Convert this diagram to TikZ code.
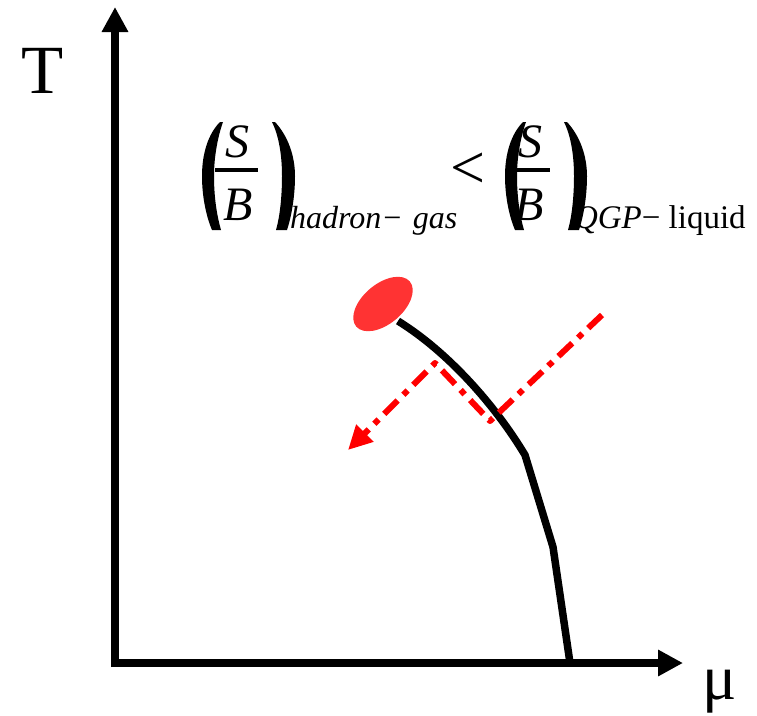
\documentclass[tikz,border=0pt]{standalone}
\usepackage{fontspec}
\setmainfont{Liberation Serif}
\usetikzlibrary{arrows.meta}
\definecolor{critred}{RGB}{255,51,51}
\begin{document}
\begin{tikzpicture}[x=1pt,y=-1pt,
  axis/.style={line width=8pt, -{Triangle[length=25pt,width=25pt]}},
  phase/.style={line width=7.5pt, line join=round},
  flow/.style={red, line width=6pt, line join=round, dash pattern=on 19pt off 8pt on 6pt off 8pt, -{Triangle[length=24pt,width=23pt]}},
  lbl/.style={inner sep=0pt, outer sep=0pt},
  big/.style={lbl, font=\fontsize{48}{48}\selectfont\itshape},
  subs/.style={lbl, anchor=base west, font=\fontsize{33}{33}\selectfont},
  lpar/.pic={\fill (18,-54) -- (21,-54) .. controls (16,-40) and (12,-20) .. (12,0) .. controls (12,22) and (15,40) .. (19,54) -- (10,54) .. controls (4,40) and (0,20) .. (0,0) .. controls (0,-22) and (6,-42) .. (18,-54) -- cycle;},
  rpar/.pic={\fill (-23,-54) -- (-20,-54) .. controls (-7,-40) and (0,-20) .. (0,0) .. controls (0,22) and (-4,42) .. (-8,54) -- (-19,54) .. controls (-15,40) and (-13,20) .. (-13,0) .. controls (-13,-20) and (-16,-40) .. (-23,-54) -- cycle;}
  ]
\useasboundingbox (0,0) rectangle (757,715);
% axes
\coordinate (Ob) at (115,667);
\coordinate (Ol) at (111,663);
\coordinate (Ttip) at (115,7);
\coordinate (Mtip) at (683,663);
\draw[axis] (Ob) -- (Ttip);
\draw[axis] (Ol) -- (Mtip);
\node[lbl, anchor=base west, font=\fontsize{69}{69}\selectfont] (T) at (21,93) {T};
\node[lbl, anchor=base west, font=\fontsize{64}{64}\selectfont] (mu) at (702,699) {μ};
% phase boundary
\coordinate (c0) at (398,321);
\coordinate (c1) at (525,455);
\coordinate (c2) at (553,547);
\coordinate (c3) at (570,663);
\draw[phase] (c0) .. controls (448,352) and (495,405) .. (c1) -- (c2) -- (c3);
\fill[critred, rotate around={40:(383,304)}] (383,304) ellipse [x radius=35, y radius=20];
% flow arrow
\coordinate (f0) at (602,315);
\coordinate (f1) at (490,421);
\coordinate (f2) at (435,363);
\coordinate (f3) at (348,450);
\draw[flow] (f0) -- (f1) -- (f2) -- (f3);
% formula
\pic at (202,176) {lpar};
\pic at (295,176) {rpar};
\node[big, anchor=base] (S1) at (237,157) {S};
\node[big, anchor=base] (B1) at (238,220) {B};
\draw[line width=3.5pt] (215,170) -- (258,170);
\node[subs, font=\fontsize{32}{32}\selectfont] (sub1) at (290,228) {\itshape hadron−\hspace{10pt}gas};
\node[lbl, font=\fontsize{62}{62}\selectfont] (lt) at (468,171) {<};
\pic at (505,176) {lpar};
\pic at (587,176) {rpar};
\node[big, anchor=base] (S2) at (530,157) {S};
\node[big, anchor=base] (B2) at (529,220) {B};
\draw[line width=3.5pt] (507,170) -- (550,170);
\node[subs] (sub2) at (574,228) {\textit{QGP}− liquid};
\end{tikzpicture}
\end{document}
